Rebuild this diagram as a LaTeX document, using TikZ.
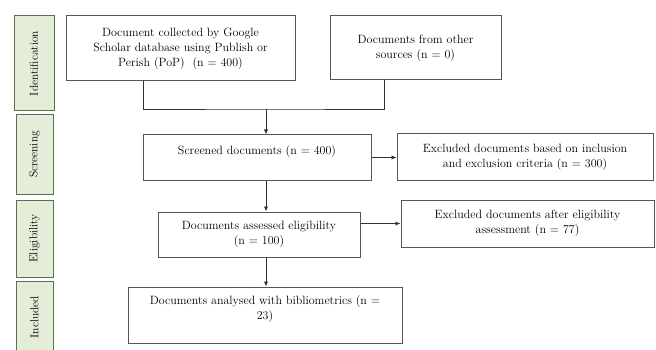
\documentclass[tikz,border=0pt]{standalone}
\usetikzlibrary{arrows.meta}
\definecolor{stagefill}{HTML}{E3EDD8}
\definecolor{stageline}{HTML}{5A6F50}
\definecolor{boxline}{HTML}{555555}
\begin{document}
\begin{tikzpicture}[x=1pt,y=-1pt,
		box/.style={draw=boxline,line width=1pt,align=center,inner sep=2pt,font=\fontsize{12}{15}\selectfont},
		stage/.style={draw=stageline,fill=stagefill,line width=1pt,rotate=90,inner sep=0pt,font=\fontsize{11.5}{13}\selectfont},
		link/.style={line width=0.9pt,draw=black!80},
		arr/.style={link,-{Latex[length=5pt,width=4.5pt]}}]
		\useasboundingbox (0,0) rectangle (656,350);

		% Stages on the left
		\node[stage,minimum width=95,minimum height=40] (stIdent) at (34,63.5) {Identification};
		\node[stage,minimum width=79,minimum height=37] (stScreen) at (34.5,154.5) {Screening};
		\node[stage,minimum width=77,minimum height=37] (stElig) at (34.5,238.5) {Eligibility};
		\node[stage,minimum width=72,minimum height=37] (stIncl) at (34.5,317) {Included};

		% Identification
		\node[box,minimum width=229,minimum height=65] (scholar) at (180.5,48.5) {Document collected by Google\\Scholar database using Publish or\\Perish (PoP)~~(n = 400)};
		\node[box,minimum width=171,minimum height=64] (other) at (415.5,48) {Documents from other\\sources (n = 0)};
		\coordinate (merge) at (266,109);
		\draw[link] ([xshift=-37.5pt]scholar.south) |- (merge) -| ([xshift=-31.5pt]other.south);

		% Screening
		\node[box,minimum width=228,minimum height=45] (screened) at (257,157.5) {Screened documents (n = 400)\\ \mbox{}};
		\node[box,minimum width=256,minimum height=46] (exScreen) at (525,157) {Excluded documents based on inclusion\\and exclusion criteria (n = 300)};
		\draw[arr] (merge) -- (merge |- screened.north);
		\draw[arr] (screened.east) -- (screened.east -| exScreen.west);

		% Eligibility
		\node[box,minimum width=202,minimum height=45] (assessed) at (259,234.5) {Documents assessed eligibility\\(n = 100)};
		\node[box,minimum width=253,minimum height=47] (exElig) at (527.5,223.5) {Excluded documents after eligibility\\assessment (n = 77)};
		\draw[arr] (merge |- screened.south) -- (merge |- assessed.north);
		\draw[arr] (assessed.east |- exElig.west) -- (exElig.west);

		% Included
		\node[box,minimum width=274,minimum height=56] (biblio) at (265,315) {Documents analysed with bibliometrics (n =\\23)\\ \mbox{}};
		\draw[arr] (merge |- assessed.south) -- (merge |- biblio.north);
	\end{tikzpicture}
\end{document}
